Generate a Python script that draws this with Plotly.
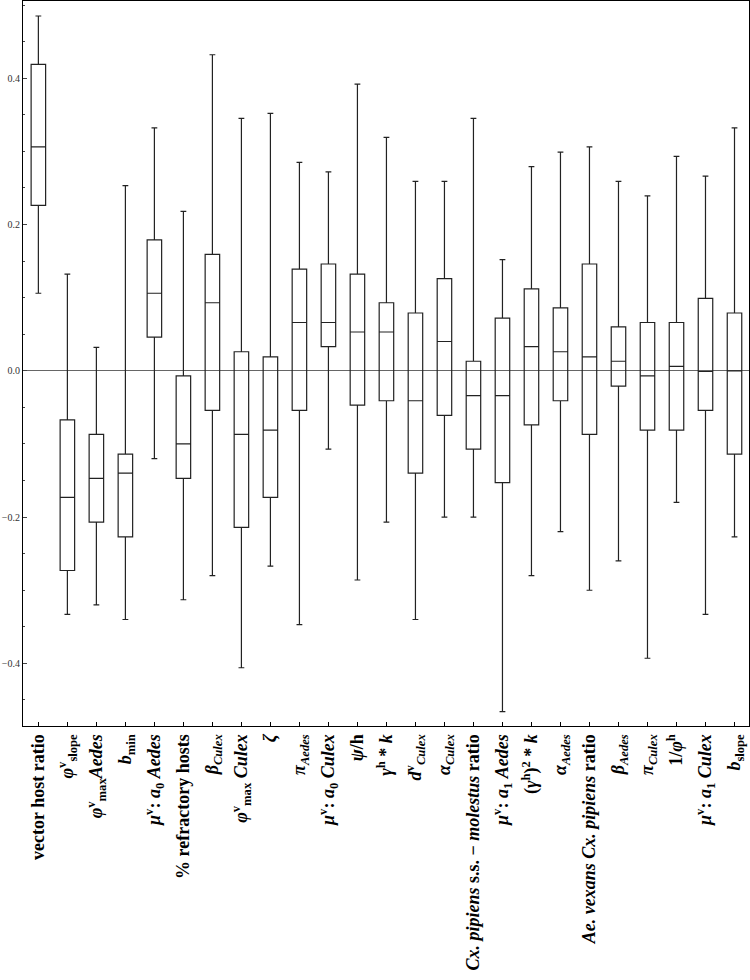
import plotly.graph_objects as go

labels = [
    "<b>vector host ratio</b>",
    "<b><i>φ</i><sup>v</sup><sub>slope</sub></b>",
    "<b><i>φ</i><sup>v</sup><sub>max</sub><i>Aedes</i></b>",
    "<b><i>b</i><sub>min</sub></b>",
    "<b><i>μ</i><sup>v</sup>: <i>a</i><sub>0</sub> <i>Aedes</i></b>",
    "<b>% refractory hosts</b>",
    "<b><i>β</i><sub><i>Culex</i></sub></b>",
    "<b><i>φ</i><sup>v</sup><sub>max</sub> <i>Culex</i></b>",
    "<b><i>ζ</i></b>",
    "<b><i>π</i><sub><i>Aedes</i></sub></b>",
    "<b><i>μ</i><sup>v</sup>: <i>a</i><sub>0</sub> <i>Culex</i></b>",
    "<b><i>ψ</i>/h</b>",
    "<b><i>γ</i><sup>h</sup> * <i>k</i></b>",
    "<b><i>d</i><sup>v</sup><sub><i>Culex</i></sub></b>",
    "<b><i>α</i><sub><i>Culex</i></sub></b>",
    "<b><i>Cx. pipiens</i> s.s. − <i>molestus</i> ratio</b>",
    "<b><i>μ</i><sup>v</sup>: <i>a</i><sub>1</sub> <i>Aedes</i></b>",
    "<b>(<i>γ</i><sup>h</sup>)<sup>2</sup> * <i>k</i></b>",
    "<b><i>α</i><sub><i>Aedes</i></sub></b>",
    "<b><i>Ae. vexans Cx. pipiens</i> ratio</b>",
    "<b><i>β</i><sub><i>Aedes</i></sub></b>",
    "<b><i>π</i><sub><i>Culex</i></sub></b>",
    "<b>1/<i>φ</i><sup>h</sup></b>",
    "<b><i>μ</i><sup>v</sup>: <i>a</i><sub>1</sub> <i>Culex</i></b>",
    "<b><i>b</i><sub>slope</sub></b>",
]

upper = [0.485, 0.132, 0.032, 0.253, 0.332, 0.218, 0.432, 0.345, 0.352, 0.285,
         0.272, 0.392, 0.319, 0.259, 0.259, 0.345, 0.152, 0.279, 0.299, 0.306,
         0.259, 0.239, 0.293, 0.266, 0.332]
q3 = [0.419, -0.067, -0.087, -0.114, 0.179, -0.007, 0.159, 0.026, 0.019, 0.139,
      0.146, 0.132, 0.093, 0.079, 0.126, 0.013, 0.072, 0.112, 0.086, 0.146,
      0.060, 0.066, 0.066, 0.099, 0.079]
median = [0.306, -0.173, -0.147, -0.140, 0.106, -0.100, 0.093, -0.087, -0.081, 0.066,
          0.066, 0.053, 0.053, -0.041, 0.040, -0.034, -0.034, 0.033, 0.026, 0.019,
          0.013, -0.007, 0.006, -0.001, 0.000]
q1 = [0.226, -0.273, -0.207, -0.227, 0.046, -0.147, -0.054, -0.214, -0.173, -0.054,
      0.033, -0.047, -0.041, -0.140, -0.061, -0.107, -0.153, -0.074, -0.041, -0.087,
      -0.021, -0.081, -0.081, -0.054, -0.114]
lower = [0.106, -0.333, -0.320, -0.340, -0.120, -0.313, -0.280, -0.406, -0.267, -0.347,
         -0.107, -0.286, -0.207, -0.340, -0.200, -0.200, -0.466, -0.280, -0.220, -0.300,
         -0.260, -0.393, -0.180, -0.333, -0.227]

xs = list(range(len(labels)))

fig = go.Figure()
fig.add_trace(go.Box(
    x=xs, q1=q1, median=median, q3=q3, lowerfence=lower, upperfence=upper,
    fillcolor="rgba(255,255,255,0)",
    line=dict(color="#222222", width=1.2),
    width=0.5, whiskerwidth=0.4,
    boxpoints=False, showlegend=False, hoverinfo="skip",
))

fig.update_layout(
    width=750, height=980,
    margin=dict(l=23, r=1, t=1, b=254),
    paper_bgcolor="white", plot_bgcolor="white",
    xaxis=dict(
        range=[-0.53, 24.5],
        automargin=False,
        tickmode="array", tickvals=xs, ticktext=labels,
        tickangle=-90,
        tickfont=dict(family="Liberation Serif", size=18, color="black"),
        ticks="inside", ticklen=4, tickcolor="black",
        showline=True, linecolor="black", linewidth=1.2, mirror=True,
        showgrid=False, zeroline=False,
    ),
    yaxis=dict(
        range=[-0.4856, 0.5055],
        automargin=False,
        tickvals=[-0.4, -0.2, 0.0, 0.2, 0.4],
        ticktext=["−0.4", "−0.2", "0.0", "0.2", "0.4"],
        tickfont=dict(family="Liberation Serif", size=10, color="#333333"),
        ticks="inside", ticklen=4, tickcolor="#444444",
        minor=dict(dtick=0.05, tick0=0, ticks="inside", ticklen=2, tickcolor="#444444"),
        showline=True, linecolor="black", linewidth=1.2, mirror=True,
        showgrid=False,
        zeroline=True, zerolinecolor="#666666", zerolinewidth=1,
    ),
)

fig.write_html(
    "out.html",
    config={"displayModeBar": False},
    post_script="document.body.style.margin='0';document.body.style.padding='0';",
)
